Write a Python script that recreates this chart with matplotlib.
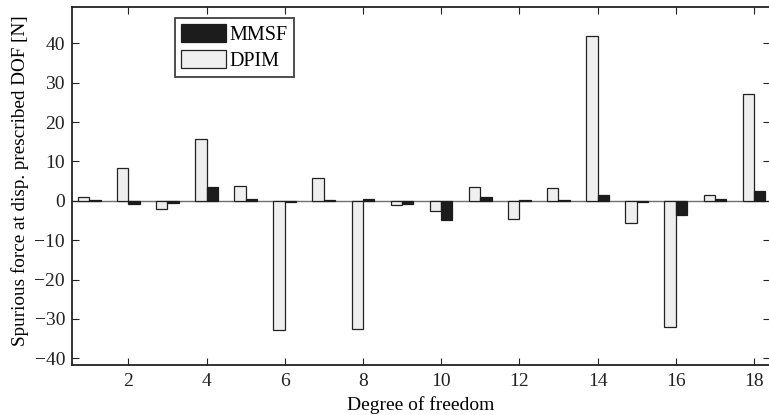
import matplotlib.pyplot as plt
import numpy as np

plt.rcParams['font.family'] = ['Liberation Serif', 'DejaVu Serif']

# spurious force at each displacement-prescribed DOF
dof = np.arange(1, 19)
dpim = [0.85, 8.2, -2.0, 15.7, 3.8, -32.7, 5.9, -32.6, -1.2,
        -2.55, 3.4, -4.6, 3.15, 41.8, -5.6, -32.1, 1.4, 27.0]
mmsf = [0.1, -0.8, -0.6, 3.4, 0.35, -0.2, 0.2, 0.4, -0.9,
        -4.8, 1.0, 0.25, 0.1, 1.5, -0.3, -3.6, 0.5, 2.6]

W, H = 769, 415
fig = plt.figure(figsize=(W / 100, H / 100), dpi=100)
ax = fig.add_axes([72 / W, 1 - 365 / H, (770 - 72) / W, (365 - 7) / H])

bw = 0.29
b1 = ax.bar(dof - bw / 2, dpim, bw, color='#efefef', edgecolor='#222222',
            linewidth=0.9, zorder=2)
b2 = ax.bar(dof + bw / 2, mmsf, bw, color='#1c1c1c', edgecolor='#1c1c1c',
            linewidth=0.9, zorder=2)
ax.axhline(0, color='#707070', linewidth=1.0, zorder=1)

ax.set_xlim(0.56, 18.41)
ax.set_ylim(-41.7, 49.2)
ax.set_xticks(np.arange(2, 19, 2))
ax.set_yticks(np.arange(-40, 41, 10))
ax.yaxis.set_major_formatter(plt.FuncFormatter(lambda v, p: f'{v:.0f}'.replace('-', '\u2212')))
ax.tick_params(direction='in', top=True, right=True, length=5, width=0.8,
               labelsize=14, colors='#222222')
ax.tick_params(axis='y', pad=5)
ax.tick_params(axis='x', pad=5.5)
for s in ax.spines.values():
    s.set_linewidth(1.3)
    s.set_color('#222222')

ax.set_xlabel('Degree of freedom', fontsize=14, labelpad=5)
ax.set_ylabel('Spurious force at disp. prescribed DOF [N]', fontsize=13.8)
ax.yaxis.set_label_coords(-0.061, 0.515)

leg = ax.legend([b2, b1], ['MMSF', 'DPIM'], loc='upper left',
                bbox_to_anchor=(0.148, 0.97), fontsize=14.5, frameon=True,
                fancybox=False, handlelength=2.2, handleheight=1.0,
                handletextpad=0.2, borderpad=0.3, labelspacing=0.28,
                borderaxespad=0)
leg.get_frame().set_edgecolor('#111111')
leg.get_frame().set_linewidth(1.3)

fig.savefig('out.png', dpi=100)
